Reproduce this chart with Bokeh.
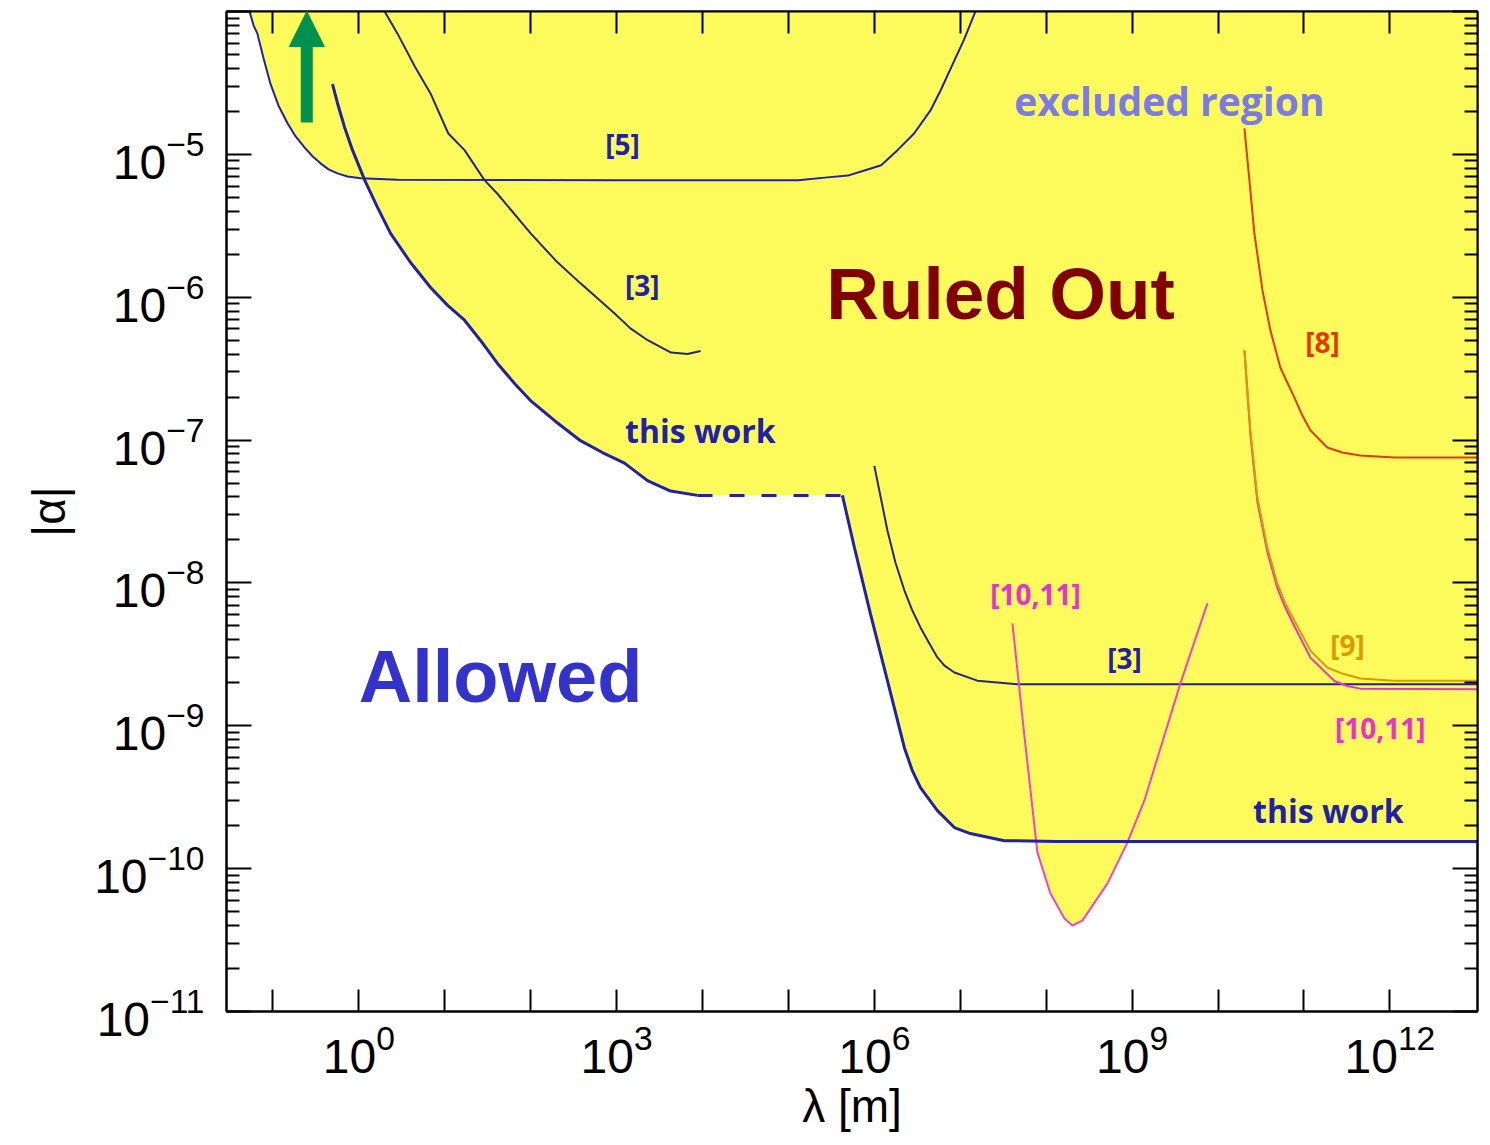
import numpy as np
from bokeh.plotting import figure
from bokeh.models import (FixedTicker, LogTickFormatter, LogAxis, Label, Arrow,
                          NormalHead, Range1d)
from bokeh.embed import file_html
from bokeh.resources import INLINE

# ---------------- data ----------------
# [5] limit
lam_5 = [0.0535, 0.0595, 0.066, 0.0778, 0.094, 0.116, 0.148, 0.183, 0.233, 0.289, 0.358,
         0.444, 0.565, 0.739, 1.05, 2.82, 1e3, 1.3e5, 2.85e5, 4.9e5, 7.67e5, 1.2e6, 1.86e6,
         2.9e6, 4.5e6, 5.9e6, 8.55e6, 1.1e7, 1.5e7]
alpha_5 = [1.0e-4, 8.0e-5, 7.0e-5, 4.7e-5, 3.1e-5, 2.2e-5, 1.65e-5, 1.34e-5, 1.12e-5, 9.7e-6,
           8.65e-6, 7.85e-6, 7.36e-6, 7.0e-6, 6.8e-6, 6.65e-6, 6.6e-6, 6.6e-6, 6.9e-6, 7.1e-6,
           7.7e-6, 8.4e-6, 1.07e-5, 1.4e-5, 2.03e-5, 2.8e-5, 4.55e-5, 6.3e-5, 1.0e-4]

# [3] limit, short range
lam_3a = [2.0, 2.82, 4.5, 6.83, 11, 17.0, 29, 41, 100, 195, 380, 950, 1450, 2300, 4300,
          6700, 9500]
alpha_3a = [1.0e-4, 7.0e-5, 4.1e-5, 2.67e-5, 1.4e-5, 1.07e-5, 6.6e-6, 5.3e-6, 2.8e-6,
            1.81e-6, 1.25e-6, 7.7e-7, 6.05e-7, 5.0e-7, 4.1e-7, 4.0e-7, 4.2e-7]

# this work, short range
lam_tw1 = [0.494, 0.565, 0.682, 0.845, 1.17, 1.65, 2.34, 4.0, 6.84, 10.8, 17.0, 26.1, 41.1,
           64.9, 99.6, 195, 380, 685, 1236, 2290, 4250, 8750]
alpha_tw1 = [3.1e-5, 2.28e-5, 1.55e-5, 1.07e-5, 6.6e-6, 4.26e-6, 2.8e-6, 1.75e-6, 1.17e-6,
             8.77e-7, 6.9e-7, 4.98e-7, 3.44e-7, 2.49e-7, 1.89e-7, 1.35e-7, 9.9e-8, 8.18e-8,
             6.9e-8, 5.2e-8, 4.4e-8, 4.1e-8]
# this work, interpolated (dashed) part
lam_twd = [8750, 4.25e5]
alpha_twd = [4.1e-8, 4.1e-8]
# this work, long range
lam_tw2 = [4.25e5, 5.86e5, 9.0e5, 1.42e6, 2.24e6, 2.77e6, 3.44e6, 5.42e6, 8.55e6, 1.31e7,
           3.26e7, 1.35e8, 1.1e13]
alpha_tw2 = [4.1e-8, 1.77e-8, 6.1e-9, 2.07e-9, 7.0e-10, 4.85e-10, 3.69e-10, 2.55e-10,
             1.94e-10, 1.76e-10, 1.57e-10, 1.55e-10, 1.55e-10]

# [3] limit, long range
lam_3b = [1.0e6, 1.42e6, 1.76e6, 2.24e6, 2.77e6, 3.44e6, 4.37e6, 5.42e6, 6.55e6, 8.55e6,
          1.58e7, 4.62e7, 1.1e13]
alpha_3b = [6.6e-8, 2.33e-8, 1.39e-8, 8.85e-9, 6.41e-9, 4.88e-9, 3.77e-9, 3.01e-9, 2.64e-9,
            2.36e-9, 2.07e-9, 1.95e-9, 1.95e-9]

# [10,11] planetary (V shaped)
lam_v = [4.05e7, 5.58e7, 7.9e7, 1.12e8, 1.63e8, 2.02e8, 2.64e8, 5.16e8, 8.82e8, 1.39e9,
         3.65e9, 7.53e9]
alpha_v = [5.2e-9, 8.5e-10, 1.3e-10, 6.7e-11, 4.47e-11, 4.0e-11, 4.33e-11, 7.85e-11,
           1.52e-10, 3.0e-10, 1.98e-9, 7.2e-9]

# [8]
lam_8 = [2.03e10, 2.32e10, 2.65e10, 3.29e10, 4.07e10, 5.31e10, 6.4e10, 7.73e10, 9.55e10,
         1.19e11, 1.87e11, 2.79e11, 4.54e11, 1.13e12, 1.1e13]
alpha_8 = [1.52e-5, 6.58e-6, 2.8e-6, 1.12e-6, 5.86e-7, 3.22e-7, 2.53e-7, 1.99e-7, 1.49e-7,
           1.17e-7, 8.87e-8, 8.18e-8, 7.8e-8, 7.55e-8, 7.55e-8]

# [9]
lam_9 = [2.03e10, 2.38e10, 2.87e10, 3.75e10, 4.91e10, 6.08e10, 7.73e10, 1.19e11, 1.87e11,
         2.79e11, 4.54e11, 1.13e12, 1.1e13]
alpha_9 = [4.24e-7, 1.17e-7, 3.96e-8, 1.77e-8, 9.9e-9, 7.18e-9, 5.46e-9, 3.36e-9, 2.56e-9,
           2.32e-9, 2.14e-9, 2.07e-9, 2.07e-9]

# [10,11] long range
lam_10 = [2.03e10, 2.38e10, 2.87e10, 3.75e10, 4.91e10, 6.08e10, 7.73e10, 1.19e11, 1.87e11,
          2.29e11, 3.19e11, 4.54e11, 1.1e13]
alpha_10 = [4.24e-7, 1.10e-7, 3.7e-8, 1.65e-8, 9.2e-9, 6.7e-9, 5.0e-9, 3.0e-9, 2.3e-9,
            2.05e-9, 1.9e-9, 1.82e-9, 1.8e-9]

x_major = [10.0 ** k for k in range(-1, 13)]
x_labelled = [10.0 ** k for k in (0, 3, 6, 9, 12)]
y_major = [10.0 ** k for k in range(-11, -3)]
y_minor = [m * 10.0 ** k for k in range(-11, -4) for m in range(2, 10)]

# ---------------- figure ----------------
X0, X1 = 10 ** -1.54, 10 ** 13.02
Y0, Y1 = 1e-11, 1e-4

p = figure(x_axis_type="log", y_axis_type="log",
           x_range=Range1d(X0, X1), y_range=Range1d(Y0, Y1),
           frame_width=1251, frame_height=1000,
           min_border_left=226, min_border_top=11, min_border_right=2, min_border_bottom=10,
           output_backend="svg", toolbar_location=None)
p.grid.visible = False
p.outline_line_color = "black"
p.outline_line_width = 2
p.background_fill_color = "white"
p.border_fill_color = "white"

TICK_FONT = "Liberation Sans"

xt = FixedTicker(ticks=x_major, minor_ticks=[])
yt = FixedTicker(ticks=y_major, minor_ticks=y_minor)

xa = p.xaxis[0]
xa.ticker = xt
xa.formatter = LogTickFormatter()
xa.major_label_overrides = {v: " " for v in x_major if v not in x_labelled}
xa.axis_label = "λ [m]"

ya = p.yaxis[0]
ya.ticker = yt
ya.formatter = LogTickFormatter()
ya.major_label_overrides = {1e-4: " "}
ya.axis_label = "|α|"

top = LogAxis(ticker=xt, major_label_text_font_size="1px", major_label_text_alpha=0,
              major_label_standoff=0)
right = LogAxis(ticker=yt, major_label_text_font_size="1px", major_label_text_alpha=0,
                major_label_standoff=0)
p.add_layout(top, "above")
p.add_layout(right, "right")

for ax in (xa, top):
    ax.major_tick_in = 22
    ax.major_tick_out = 0
    ax.minor_tick_in = 0
    ax.minor_tick_out = 0
for ax in (ya, right):
    ax.major_tick_in = 25
    ax.major_tick_out = 0
    ax.minor_tick_in = 13
    ax.minor_tick_out = 0
for ax in (xa, ya, top, right):
    ax.axis_line_width = 2
    ax.axis_line_color = "black"
    ax.major_tick_line_width = 2
    ax.minor_tick_line_width = 2
    ax.major_tick_line_color = "black"
    ax.minor_tick_line_color = "black"
for ax in (xa, ya):
    ax.major_label_text_font = TICK_FONT
    ax.major_label_text_font_size = "48px"
    ax.major_label_text_color = "black"
    ax.axis_label_text_font = "Liberation Sans"
    ax.axis_label_text_font_size = "46px"
    ax.axis_label_text_font_style = "normal"
    ax.axis_label_text_color = "black"
xa.major_label_standoff = 12
xa.axis_label_standoff = 0
ya.major_label_standoff = 22
ya.axis_label_standoff = 16

# ---------------- yellow excluded region (above the envelope of all limits) ----------------
grid = np.linspace(np.log10(X0), np.log10(X1), 4000)
curves = [(lam_5, alpha_5), (lam_3a, alpha_3a),
          (lam_tw1 + lam_twd[1:] + lam_tw2[1:], alpha_tw1 + alpha_twd[1:] + alpha_tw2[1:]),
          (lam_3b, alpha_3b), (lam_v, alpha_v), (lam_8, alpha_8), (lam_9, alpha_9),
          (lam_10, alpha_10)]
env = np.full_like(grid, np.log10(Y1))
for lx, ly in curves:
    lx = np.log10(lx)
    ly = np.log10(ly)
    inside = (grid >= lx[0]) & (grid <= lx[-1])
    vals = np.interp(grid, lx, ly)
    env = np.where(inside, np.minimum(env, vals), env)
env = np.minimum(env, np.log10(Y1))
p.varea(x=10 ** grid, y1=10 ** env, y2=np.full_like(grid, Y1), fill_color="#fdfb5c",
        fill_alpha=1.0)

# ---------------- curves ----------------
BLUE = "#2020a8"
NAVY = "#26267a"
p.line(lam_5, alpha_5, line_color=BLUE, line_width=2)
p.line(lam_3a, alpha_3a, line_color=NAVY, line_width=2)
p.line(lam_3b, alpha_3b, line_color=NAVY, line_width=2)
p.line(lam_10, alpha_10, line_color="#e633cc", line_width=2)
p.line(lam_9, alpha_9, line_color="#d99a00", line_width=2)
p.line(lam_8, alpha_8, line_color="#e03a00", line_width=2)
p.line(lam_v, alpha_v, line_color="#ee44cc", line_width=2)
p.line(lam_tw1, alpha_tw1, line_color=BLUE, line_width=3)
p.line(lam_twd, alpha_twd, line_color=BLUE, line_width=3, line_dash="15 17")
p.line(lam_tw2, alpha_tw2, line_color=BLUE, line_width=3)

# ---------------- arrow ----------------
GREEN = "#009150"
p.add_layout(Arrow(end=NormalHead(size=35, fill_color=GREEN, line_color=GREEN, line_width=1),
                   x_start=0.248, y_start=1.67e-5, x_end=0.248, y_end=1e-4,
                   line_color=GREEN, line_width=12))

# ---------------- labels ----------------
SMALL = "Open Sans"


def lab(x, y, text, color, size, font=SMALL, style="bold"):
    p.add_layout(Label(x=x, y=y, text=text, text_align="center", text_baseline="middle",
                       text_color=color, text_font=font, text_font_size=size,
                       text_font_style=style))


lab(1172, 1.19e-5, "[5]", BLUE, "28px")
lab(1995, 1.21e-6, "[3]", BLUE, "28px")
lab(9440, 1.17e-7, "this work", BLUE, "32px")
lab(2.72e9, 2.39e-5, "excluded region", "#7b7be6", "39px")
lab(1.64e11, 4.82e-7, "[8]", "#e03a00", "28px")
lab(3.21e11, 3.65e-9, "[9]", "#e09a00", "28px")
lab(7.5e7, 8.43e-9, "[10,11]", "#e633cc", "28px")
lab(8.17e8, 2.99e-9, "[3]", BLUE, "28px")
lab(7.73e11, 9.7e-10, "[10,11]", "#e633cc", "28px")
lab(1.92e11, 2.55e-10, "this work", BLUE, "32px")
lab(2.94e7, 1.06e-6, "Ruled Out", "#800000", "73px", font="Liberation Sans")
lab(44.6, 2.21e-9, "Allowed", "#3333cc", "74px", font="Liberation Sans")

open("out.html", "w").write(file_html(p, INLINE))
